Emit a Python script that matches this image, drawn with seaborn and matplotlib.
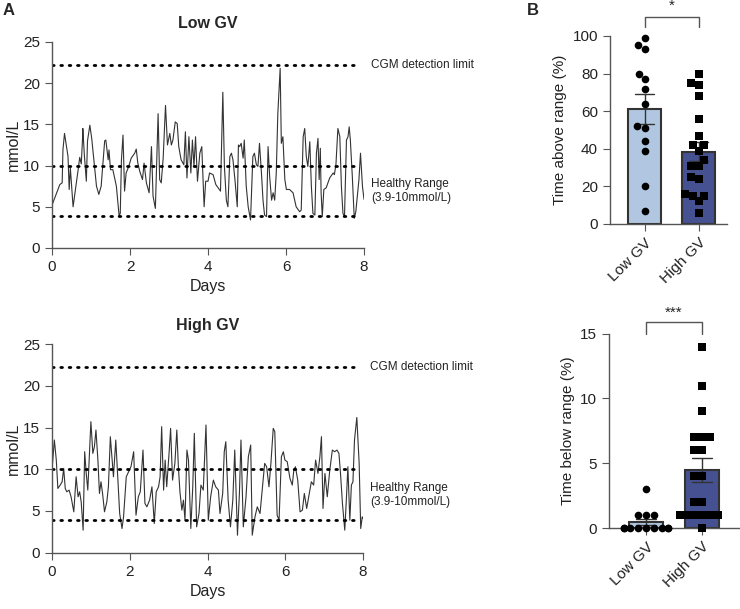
import numpy as np
import pandas as pd
import matplotlib
matplotlib.use("Agg")
import matplotlib.pyplot as plt
import seaborn as sns

# --- CGM traces (days, mmol/L) ---
low_days = [0.0, 0.2, 0.26, 0.28, 0.32, 0.41, 0.44, 0.47, 0.54, 0.67, 0.71, 0.75, 0.78, 0.79, 0.83,
            0.88, 0.91, 0.97, 1.02, 1.14, 1.2, 1.26, 1.35, 1.38, 1.44, 1.46, 1.5, 1.56, 1.65, 1.72,
            1.75, 1.78, 1.82, 1.86, 1.9, 1.96, 2.03, 2.12, 2.16, 2.2, 2.25, 2.32, 2.36, 2.42, 2.49,
            2.55, 2.59, 2.65, 2.72, 2.76, 2.8, 2.85, 2.91, 2.96, 3.02, 3.06, 3.1, 3.16, 3.21, 3.25,
            3.31, 3.38, 3.42, 3.46, 3.51, 3.56, 3.6, 3.64, 3.68, 3.73, 3.79, 3.84, 3.9, 3.94, 4.0,
            4.04, 4.13, 4.2, 4.26, 4.32, 4.38, 4.42, 4.47, 4.51, 4.56, 4.6, 4.64, 4.69, 4.75, 4.78,
            4.81, 4.85, 4.9, 4.93, 4.98, 5.03, 5.09, 5.15, 5.19, 5.24, 5.28, 5.32, 5.37, 5.41, 5.45,
            5.5, 5.54, 5.58, 5.63, 5.67, 5.71, 5.75, 5.79, 5.85, 5.88, 5.92, 5.97, 6.01, 6.09, 6.18,
            6.26, 6.35, 6.39, 6.44, 6.48, 6.52, 6.56, 6.61, 6.65, 6.69, 6.74, 6.78, 6.82, 6.85, 6.88,
            6.9, 6.93, 6.97, 7.03, 7.12, 7.21, 7.24, 7.28, 7.33, 7.38, 7.42, 7.46, 7.5, 7.55, 7.59,
            7.62, 7.65, 7.7, 7.75, 7.79, 7.87, 7.91, 7.96, 8.0]
low_vals = [5.2, 7.7, 7.9, 11.9, 13.9, 11.1, 7.1, 9.7, 5.0, 9.5, 11.0, 10.2, 13.0, 14.5, 11.2,
            8.1, 13.0, 14.9, 13.2, 7.5, 6.5, 7.5, 13.0, 13.1, 10.7, 11.9, 9.5, 9.5, 7.5, 3.9,
            4.2, 10.7, 13.7, 6.9, 9.1, 9.8, 10.9, 11.5, 12.0, 10.3, 9.3, 8.3, 10.3, 7.9, 6.7,
            12.3, 6.3, 4.8, 16.3, 8.3, 7.9, 10.9, 17.3, 12.5, 13.9, 12.5, 13.1, 15.3, 15.1, 12.3,
            10.7, 10.1, 14.1, 8.5, 13.5, 9.1, 13.1, 9.9, 13.5, 8.1, 11.5, 12.3, 5.0, 8.1, 8.1,
            9.1, 8.9, 7.7, 7.3, 6.9, 18.9, 9.9, 5.8, 5.0, 11.1, 11.5, 10.7, 8.3, 5.0, 12.5,
            12.3, 12.7, 10.9, 13.1, 7.5, 5.0, 3.4, 11.1, 11.5, 10.1, 9.9, 12.7, 9.1, 5.8, 4.0,
            3.8, 12.3, 8.7, 5.8, 6.7, 5.8, 9.1, 16.3, 21.8, 12.7, 13.5, 8.3, 7.1, 7.1, 6.7,
            5.0, 4.4, 4.6, 13.5, 14.5, 11.1, 9.9, 12.9, 7.5, 4.2, 4.0, 11.5, 13.3, 8.3, 12.1,
            6.7, 3.8, 7.1, 7.3, 8.5, 9.1, 8.9, 10.1, 14.5, 13.5, 7.5, 4.2, 3.8, 13.1, 13.5,
            14.7, 13.1, 8.7, 3.6, 4.4, 8.3, 11.5, 7.5, 5.9]

high_days = [0.0, 0.06, 0.11, 0.15, 0.21, 0.26, 0.3, 0.34, 0.38, 0.44, 0.49, 0.56, 0.62, 0.67, 0.71,
             0.75, 0.8, 0.84, 0.88, 0.92, 1.0, 1.05, 1.09, 1.13, 1.18, 1.22, 1.26, 1.3, 1.35, 1.41,
             1.45, 1.5, 1.54, 1.58, 1.64, 1.69, 1.74, 1.8, 1.84, 1.91, 1.97, 2.03, 2.1, 2.16, 2.22,
             2.27, 2.34, 2.39, 2.44, 2.51, 2.57, 2.63, 2.68, 2.74, 2.78, 2.82, 2.87, 2.91, 2.95, 3.01,
             3.05, 3.1, 3.16, 3.21, 3.25, 3.29, 3.34, 3.38, 3.42, 3.47, 3.51, 3.57, 3.62, 3.66, 3.72,
             3.78, 3.83, 3.89, 3.96, 4.02, 4.08, 4.15, 4.21, 4.28, 4.32, 4.39, 4.43, 4.47, 4.53, 4.59,
             4.65, 4.7, 4.77, 4.82, 4.86, 4.92, 4.99, 5.05, 5.11, 5.15, 5.22, 5.28, 5.35, 5.43, 5.47,
             5.52, 5.58, 5.63, 5.69, 5.73, 5.79, 5.84, 5.9, 5.95, 5.99, 6.05, 6.12, 6.18, 6.22, 6.26,
             6.32, 6.38, 6.44, 6.49, 6.55, 6.61, 6.67, 6.73, 6.78, 6.84, 6.89, 6.93, 6.97, 7.02, 7.08,
             7.14, 7.21, 7.27, 7.33, 7.38, 7.42, 7.47, 7.53, 7.57, 7.61, 7.66, 7.7, 7.74, 7.78, 7.84,
             7.9, 7.94, 7.98, 8.0]
high_vals = [9.9, 13.5, 11.1, 7.7, 8.1, 8.5, 10.1, 7.7, 7.3, 7.5, 6.7, 4.9, 9.1, 6.7, 7.3,
             6.1, 2.7, 12.1, 9.5, 7.5, 15.7, 11.9, 12.7, 14.7, 11.1, 7.1, 8.5, 7.1, 4.9, 6.1,
             7.9, 13.9, 11.5, 9.1, 13.5, 9.1, 4.7, 2.9, 4.3, 9.1, 9.7, 10.3, 12.1, 4.5, 6.7,
             7.3, 12.3, 5.9, 5.5, 6.3, 7.9, 3.5, 7.3, 7.9, 9.1, 15.1, 7.5, 11.1, 7.9, 11.9,
             14.9, 8.7, 10.7, 14.7, 10.3, 7.3, 5.1, 6.3, 3.9, 12.3, 11.1, 2.9, 7.9, 14.3, 3.1,
             4.7, 8.1, 7.5, 15.3, 3.9, 6.7, 8.7, 7.9, 7.5, 4.7, 7.1, 12.1, 13.3, 6.3, 3.1,
             6.3, 12.3, 2.1, 7.1, 13.5, 3.1, 6.7, 11.5, 12.9, 2.1, 4.3, 5.5, 4.7, 8.7, 10.7,
             10.3, 7.9, 10.7, 14.9, 14.5, 4.5, 3.9, 11.5, 12.1, 11.1, 10.9, 8.9, 8.1, 9.9, 10.3,
             8.7, 4.9, 5.1, 7.1, 5.3, 6.9, 8.5, 8.1, 11.1, 9.5, 11.5, 13.9, 5.3, 9.5, 6.7,
             9.7, 12.3, 12.1, 12.3, 11.9, 9.5, 5.9, 2.7, 6.3, 10.3, 3.9, 8.1, 8.5, 13.5, 16.2,
             10.7, 2.9, 4.3, 4.1]

ref_levels = [22.2, 10.0, 3.9]  # CGM limit, upper/lower healthy range

# --- per-subject summary values ---
groups = ["Low GV", "High GV"]
tar_low = [99, 93, 95, 80, 77, 72, 64, 51, 52, 44, 39, 20, 7]
tar_high = [80, 75, 74, 68, 56, 47, 42, 42, 39, 34, 31, 31, 25, 24, 16, 15, 15, 12, 6]
tbr_low = [3, 1, 1, 1, 0, 0, 0, 0, 0, 0, 0, 0, 0]
tbr_high = [14, 11, 9, 7, 7, 7, 6, 6, 4, 4, 2, 2, 1, 1, 1, 1, 1, 1, 0]

bar_colors = ["#a9c6e9", "#39499d"]
axis_col = "#555555"
text_col = "#222222"

sns.set_style("ticks")
plt.rcParams["font.family"] = ["Liberation Sans", "DejaVu Sans"]
plt.rcParams.update({
    "axes.edgecolor": axis_col, "xtick.color": axis_col, "ytick.color": axis_col,
    "xtick.labelcolor": text_col, "ytick.labelcolor": text_col,
    "axes.labelcolor": text_col, "axes.linewidth": 1.0,
    "xtick.major.size": 5, "ytick.major.size": 5,
})

fig = plt.figure(figsize=(7.4, 6.09), dpi=100)


def trace_panel(rect, days, vals, title):
    ax = fig.add_axes(rect)
    sns.lineplot(x=days, y=vals, ax=ax, color="#333333", linewidth=0.8)
    ax.hlines(ref_levels, 0, 7.85, colors="black", linewidth=2.0,
              linestyles=[(0, (0.6, 2.4))] * 3, capstyle="round")
    ax.set_xlim(0, 8)
    ax.set_ylim(0, 25)
    ax.set_xticks(range(0, 9, 2))
    ax.set_yticks(range(0, 26, 5))
    ax.tick_params(labelsize=11)
    ax.set_xlabel("Days", fontsize=11.5)
    ax.set_ylabel("mmol/L", fontsize=11.5, labelpad=2)
    ax.set_title(title, fontsize=11.5, fontweight="bold", pad=10)
    ax.text(8.18, 22.2, "CGM detection limit", fontsize=8.5, va="center",
            color=text_col, clip_on=False)
    ax.text(8.18, 6.9, "Healthy Range\n(3.9-10mmol/L)", fontsize=8.5, va="center",
            color=text_col, linespacing=1.3, clip_on=False)
    sns.despine(ax=ax)
    return ax


trace_panel([0.0703, 0.5928, 0.4216, 0.3383], low_days, low_vals, "Low GV")
trace_panel([0.0703, 0.0924, 0.4203, 0.3427], high_days, high_vals, "High GV")


def bar_panel(rect, low, high, ylim, yticks, ylabel, xlim, stars, br_y, br_h, star_y):
    ax = fig.add_axes(rect)
    df = pd.DataFrame({"group": ["Low GV"] * len(low) + ["High GV"] * len(high),
                       "value": low + high})
    sns.barplot(data=df, x="group", y="value", order=groups, hue="group",
                palette=dict(zip(groups, bar_colors)), legend=False,
                errorbar="se", capsize=0.35, width=0.61, edgecolor="#333333",
                linewidth=1.5, err_kws={"color": "#333333", "linewidth": 1.0}, ax=ax)
    sns.swarmplot(data=df[df.group == "Low GV"], x="group", y="value", order=groups,
                  color="black", marker="o", size=5.5, ax=ax)
    sns.swarmplot(data=df[df.group == "High GV"], x="group", y="value", order=groups,
                  color="black", marker="s", size=5.5, ax=ax)
    for c in ax.collections:
        c.set_clip_on(False)
    ax.set_xlim(*xlim)
    ax.set_ylim(*ylim)
    ax.set_yticks(yticks)
    ax.tick_params(labelsize=11)
    ax.set_xticks([0, 1])
    ax.set_xticklabels(groups, rotation=45, ha="right", rotation_mode="anchor", fontsize=11)
    ax.set_xlabel("")
    ax.set_ylabel(ylabel, fontsize=11)
    # significance bracket
    ax.plot([0, 0, 1, 1], [br_y - br_h, br_y, br_y, br_y - br_h], color=axis_col,
            linewidth=1.0, clip_on=False)
    ax.text(0.5, star_y, stars, ha="center", va="center", fontsize=11, color=text_col,
            clip_on=False)
    sns.despine(ax=ax)
    return ax


bar_panel([0.824, 0.6322, 0.158, 0.3087], tar_low, tar_high, (0, 100), range(0, 101, 20),
          "Time above range (%)", (-0.65, 1.52), "*", 110, 5, 116)
bar_panel([0.823, 0.1330, 0.177, 0.3190], tbr_low, tbr_high, (0, 15), [0, 5, 10, 15],
          "Time below range (%)", (-0.66, 1.68), "***", 15.9, 0.9, 16.6)

fig.text(0.004, 0.982, "A", fontsize=12, fontweight="bold", va="center")
fig.text(0.712, 0.982, "B", fontsize=12, fontweight="bold", va="center")

fig.savefig("out.png", dpi=100)
